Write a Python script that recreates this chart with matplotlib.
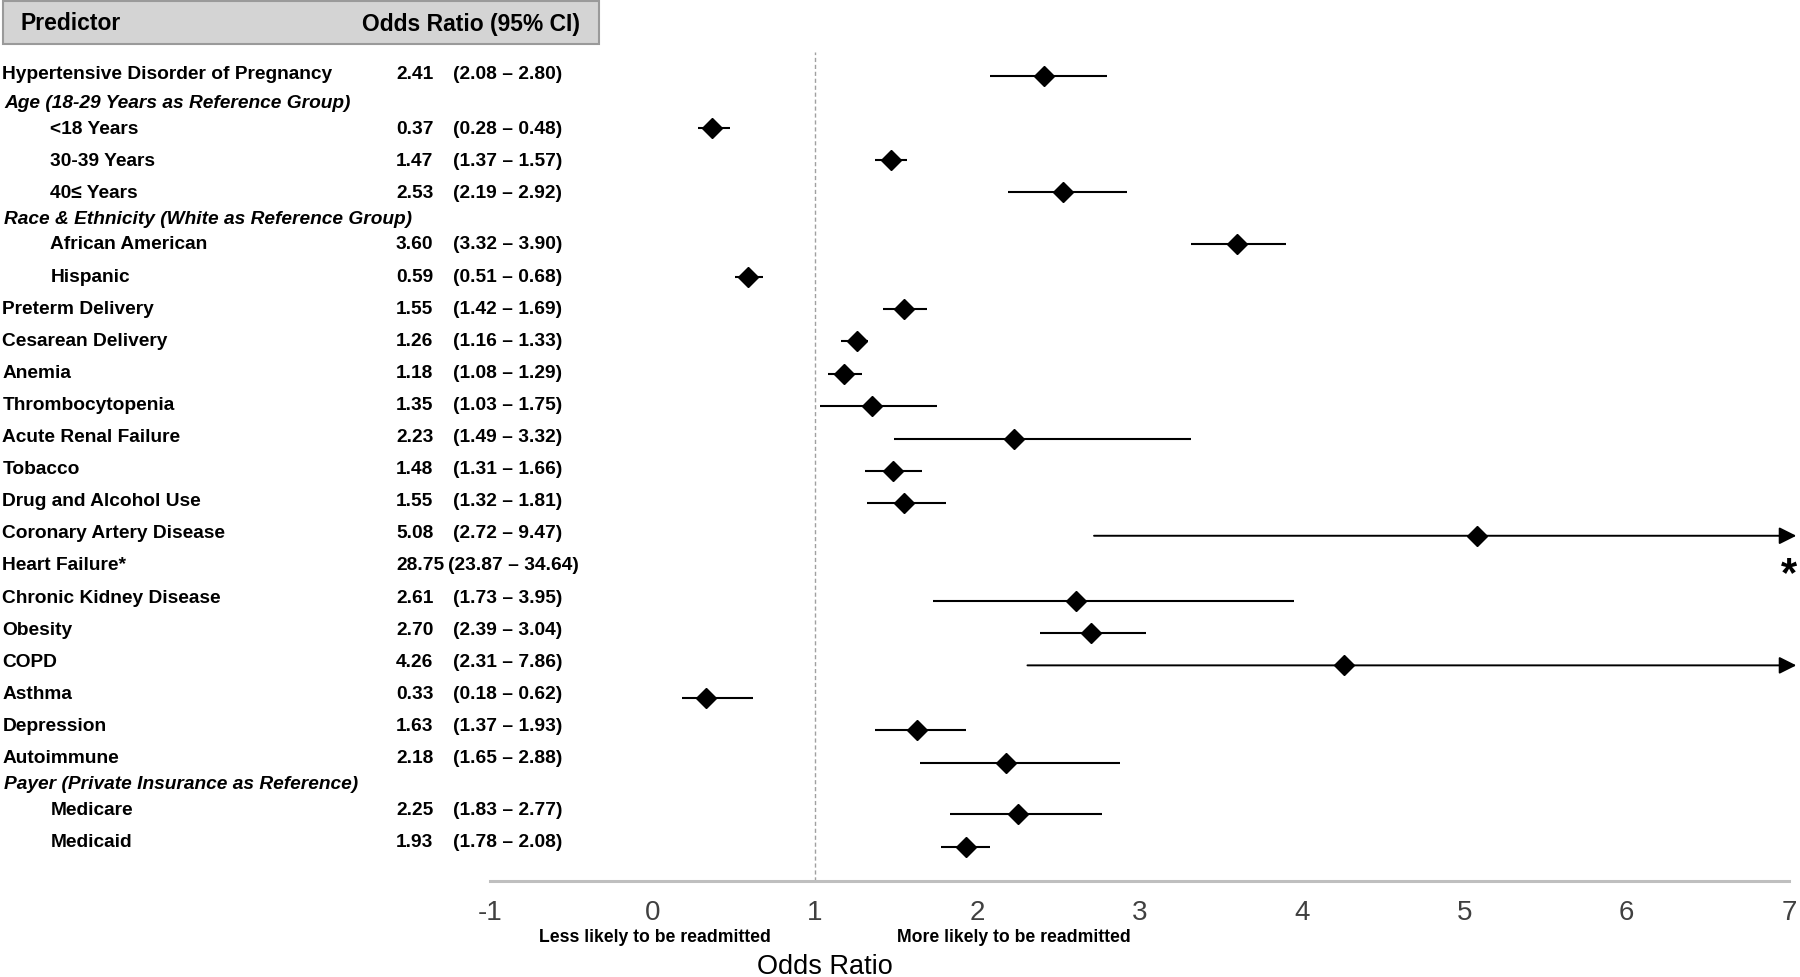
import numpy as np
import matplotlib.pyplot as plt
from matplotlib.patches import Rectangle
from matplotlib.transforms import blended_transform_factory

plt.rcParams['font.family'] = ['Liberation Sans', 'DejaVu Sans']

predictors = ["Hypertensive Disorder of Pregnancy",
              "Age (18-29 Years as Reference Group)",
              "<18 Years", "30-39 Years", "40\u2264 Years",
              "Race & Ethnicity (White as Reference Group)",
              "African American", "Hispanic",
              "Preterm Delivery", "Cesarean Delivery", "Anemia", "Thrombocytopenia",
              "Acute Renal Failure", "Tobacco", "Drug and Alcohol Use",
              "Coronary Artery Disease", "Heart Failure*", "Chronic Kidney Disease",
              "Obesity", "COPD", "Asthma", "Depression", "Autoimmune",
              "Payer (Private Insurance as Reference)",
              "Medicare", "Medicaid"]
row_type = ["main", "head", "sub", "sub", "sub", "head", "sub", "sub",
            "main", "main", "main", "main", "main", "main", "main",
            "main", "main", "main", "main", "main", "main", "main", "main",
            "head", "sub", "sub"]
nan = np.nan
odds = [2.41, nan, 0.37, 1.47, 2.53, nan, 3.60, 0.59, 1.55, 1.26, 1.18, 1.35,
        2.23, 1.48, 1.55, 5.08, 28.75, 2.61, 2.70, 4.26, 0.33, 1.63, 2.18,
        nan, 2.25, 1.93]
ci_low = [2.08, nan, 0.28, 1.37, 2.19, nan, 3.32, 0.51, 1.42, 1.16, 1.08, 1.03,
          1.49, 1.31, 1.32, 2.72, 23.87, 1.73, 2.39, 2.31, 0.18, 1.37, 1.65,
          nan, 1.83, 1.78]
ci_high = [2.80, nan, 0.48, 1.57, 2.92, nan, 3.90, 0.68, 1.69, 1.33, 1.29, 1.75,
           3.32, 1.66, 1.81, 9.47, 34.64, 3.95, 3.04, 7.86, 0.62, 1.93, 2.88,
           nan, 2.77, 2.08]
xticks = [-1, 0, 1, 2, 3, 4, 5, 6, 7]

# row positions: section headers sit in a shorter slot
ypos = []
y = 0.0
for i, t in enumerate(row_type):
    if i > 0:
        y += 0.8 if (t == "head" or row_type[i - 1] == "head") else 1.0
    ypos.append(y)

W, H = 1800, 977
fig = plt.figure(figsize=(18, 9.77), dpi=100)
ax = fig.add_axes([490 / W, 1 - 880.5 / H, (1789 - 490) / W, (880.5 - 51.7) / H])
ax.set_xlim(-1, 7)
ax.set_ylim(24.84, -0.74)

xmax = 7
for i in range(len(predictors)):
    if np.isnan(odds[i]):
        continue
    yy = ypos[i]
    if odds[i] > xmax:
        # off the scale: only flagged with an asterisk
        ax.text(xmax, yy + 0.2, "*", ha='center', va='center', fontsize=30,
                fontweight='bold', clip_on=False)
        continue
    if ci_high[i] > xmax:
        ax.annotate('', xy=(xmax + 0.045, yy), xytext=(ci_low[i], yy),
                    arrowprops=dict(arrowstyle='-|>', color='black', lw=1.4,
                                    mutation_scale=26, shrinkA=0, shrinkB=0),
                    annotation_clip=False)
    else:
        ax.hlines(yy, ci_low[i], ci_high[i], color='black', lw=1.5)
    ax.plot(odds[i], yy, marker='D', color='black', markersize=10.5, zorder=3)

ax.axvline(1, color='#a0a0a0', lw=1, linestyle=(0, (3, 2)), zorder=0)

for s in ['top', 'right', 'left']:
    ax.spines[s].set_visible(False)
ax.spines['bottom'].set_color('#bfbfbf')
ax.spines['bottom'].set_linewidth(2.2)
ax.set_yticks([])
ax.set_xticks(xticks)
ax.set_xticklabels([str(v) for v in xticks])
ax.tick_params(axis='x', length=0, pad=14, labelsize=20, labelcolor='#404040')

tr = blended_transform_factory(fig.transFigure, ax.transData)
fs = 13.8
for i, lab in enumerate(predictors):
    t = row_type[i]
    ty = ypos[i] * 0.991 + 0.07 - (0.12 if i == 0 else 0.0)
    if t == "head":
        ax.text(4 / W, ty, lab, transform=tr, fontsize=fs, fontweight='bold',
                fontstyle='italic', ha='left', va='center', clip_on=False)
        continue
    x0 = 2.3 if t == "main" else 50.5
    ax.text(x0 / W, ty, lab, transform=tr, fontsize=fs, fontweight='bold',
            ha='left', va='center', clip_on=False)
    num = "%.2f" % odds[i]
    ax.text(396 / W, ty, num, transform=tr, fontsize=fs, fontweight='bold',
            ha='left', va='center', clip_on=False)
    ci_x = 453 if len(num) <= 4 else 448
    ax.text(ci_x / W, ty, "(%.2f \u2013 %.2f)" % (ci_low[i], ci_high[i]),
            transform=tr, fontsize=fs, fontweight='bold', ha='left',
            va='center', clip_on=False)

# header box
fig.patches.append(Rectangle((3.4 / W, 1 - 43.6 / H), (599 - 3.4) / W, 43 / H,
                             transform=fig.transFigure, facecolor='#d4d4d4',
                             edgecolor='#9a9a9a', lw=1.5))
fig.text(20.7 / W, 1 - 24 / H, "Predictor", fontsize=16.5, fontweight='bold',
         ha='left', va='center')
fig.text(362 / W, 1 - 24 / H, "Odds Ratio (95% CI)", fontsize=16.5,
         fontweight='bold', ha='left', va='center')

trb = blended_transform_factory(ax.transData, fig.transFigure)
ax.text(0.016, 1 - 937 / H, "Less likely to be readmitted", transform=trb,
        fontsize=12.7, fontweight='bold', ha='center', va='center', clip_on=False)
ax.text(2.228, 1 - 937 / H, "More likely to be readmitted", transform=trb,
        fontsize=12.7, fontweight='bold', ha='center', va='center', clip_on=False)
ax.text(1.06, 1 - 974 / H, "Odds Ratio", transform=trb, fontsize=19.5,
        ha='center', va='baseline', clip_on=False)

fig.savefig("out.png", dpi=100)
